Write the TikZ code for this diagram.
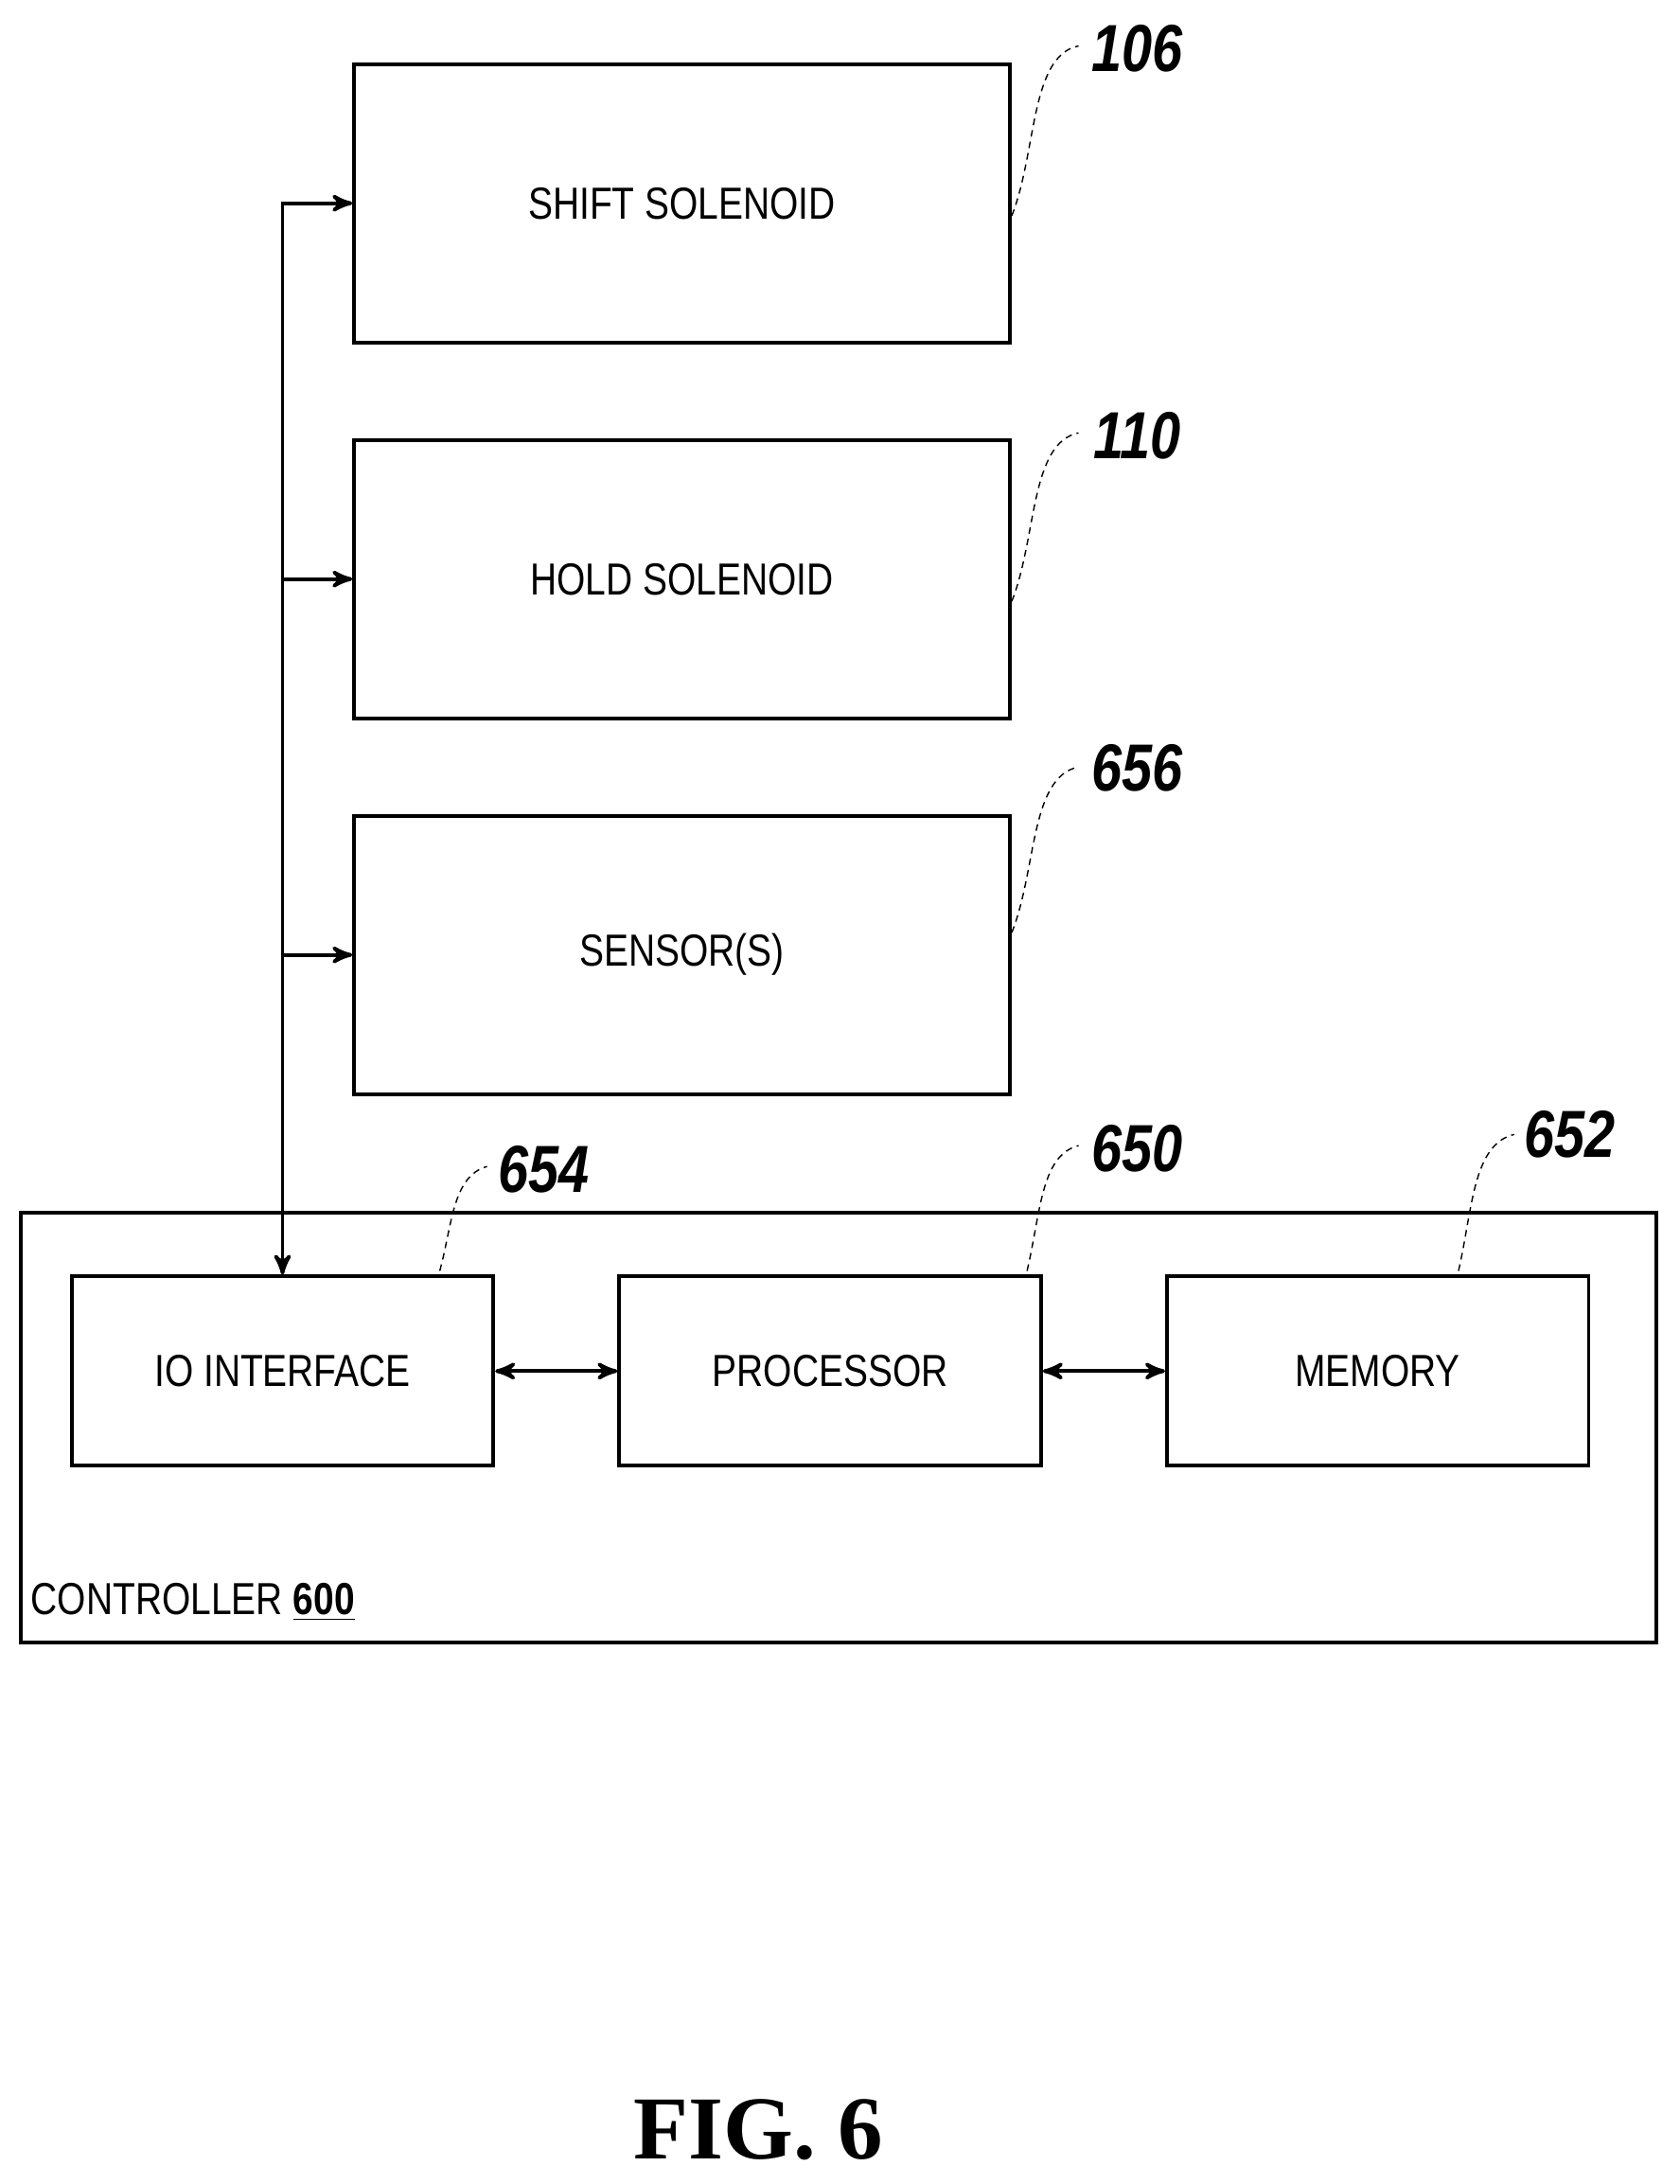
\documentclass[tikz,border=0pt]{standalone}
\usepackage{fontspec}
\setmainfont{Liberation Sans}[FakeStretch=0.82]
\newfontfamily\figfont{Liberation Serif}
\usetikzlibrary{arrows,positioning}

\begin{document}
\begin{tikzpicture}[x=0.0147cm,y=-0.0147cm,>=stealth',line width=1.1pt,
	box/.style={draw,line width=1.1pt,minimum width=471*0.0147cm,minimum height=200*0.0147cm,font=\fontsize{13.5}{16}\selectfont},
	unit/.style={draw,line width=1.1pt,minimum width=303*0.0147cm,minimum height=136*0.0147cm,font=\fontsize{13.5}{16}\selectfont},
	ref/.style={font=\fontsize{20}{22}\selectfont\bfseries\itshape},
	lead/.style={thin,dash pattern=on 2pt off 1.5pt},
	arr/.style={->,>={stealth'[scale=1.4]}},
	darr/.style={<->,>={stealth'[scale=1.4]}}]
	\useasboundingbox (0,0) rectangle (1207,1569);
	\node[box] (shift) at (490,146) {SHIFT SOLENOID};
	\node[box] (hold) at (490,416) {HOLD SOLENOID};
	\node[box] (sens) at (490,686) {SENSOR(S)};
	\node[draw,line width=1.1pt,minimum width=1175*0.0147cm,minimum height=309*0.0147cm] (ctrl) at (602.5,1025.5) {};
	\node[unit] (io) at (203,985) {IO INTERFACE};
	\node[unit] (proc) at (596.5,985) {PROCESSOR};
	\node[unit] (mem) at (990,985) {MEMORY};
	\node[anchor=south west,inner sep=0pt,font=\fontsize{13.5}{16}\selectfont] (clab) at (21,1166) {CONTROLLER \textbf{\underline{600}}};
	
	\coordinate (bh) at (io.north |- hold.west);
	\coordinate (bs) at (io.north |- sens.west);
	\draw[darr] (io.north) -- (io.north |- shift.west) -- (shift.west);
	\draw[arr] (bh) -- (hold.west);
	\draw[arr] (bs) -- (sens.west);
	\draw[darr] (io) -- (proc);
	\draw[darr] (proc) -- (mem);
	
	% reference numerals
	\node[ref] (r106) at (817,35) {106};
	\node[ref] (r110) at (817,313) {110};
	\node[ref] (r656) at (817,552) {656};
	\node[ref] (r654) at (391,840) {654};
	\node[ref] (r650) at (817,825) {650};
	\node[ref] (r652) at (1128,815) {652};
	\draw[lead] (727,155) .. controls (745,110) and (740,40) .. (775,33);
	\draw[lead] (727,432) .. controls (745,387) and (740,318) .. (775,311);
	\draw[lead] (727,670) .. controls (745,625) and (740,558) .. (775,551);
	\draw[lead] (316,913) .. controls (325,880) and (325,845) .. (350,838);
	\draw[lead] (738,913) .. controls (748,870) and (748,830) .. (775,823);
	\draw[lead] (1048,913) .. controls (1058,870) and (1058,822) .. (1088,815);
	
	\node[font=\figfont\fontsize{27}{30}\selectfont\bfseries] (fig) at (545,1530) {FIG. 6};
\end{tikzpicture}
\end{document}
